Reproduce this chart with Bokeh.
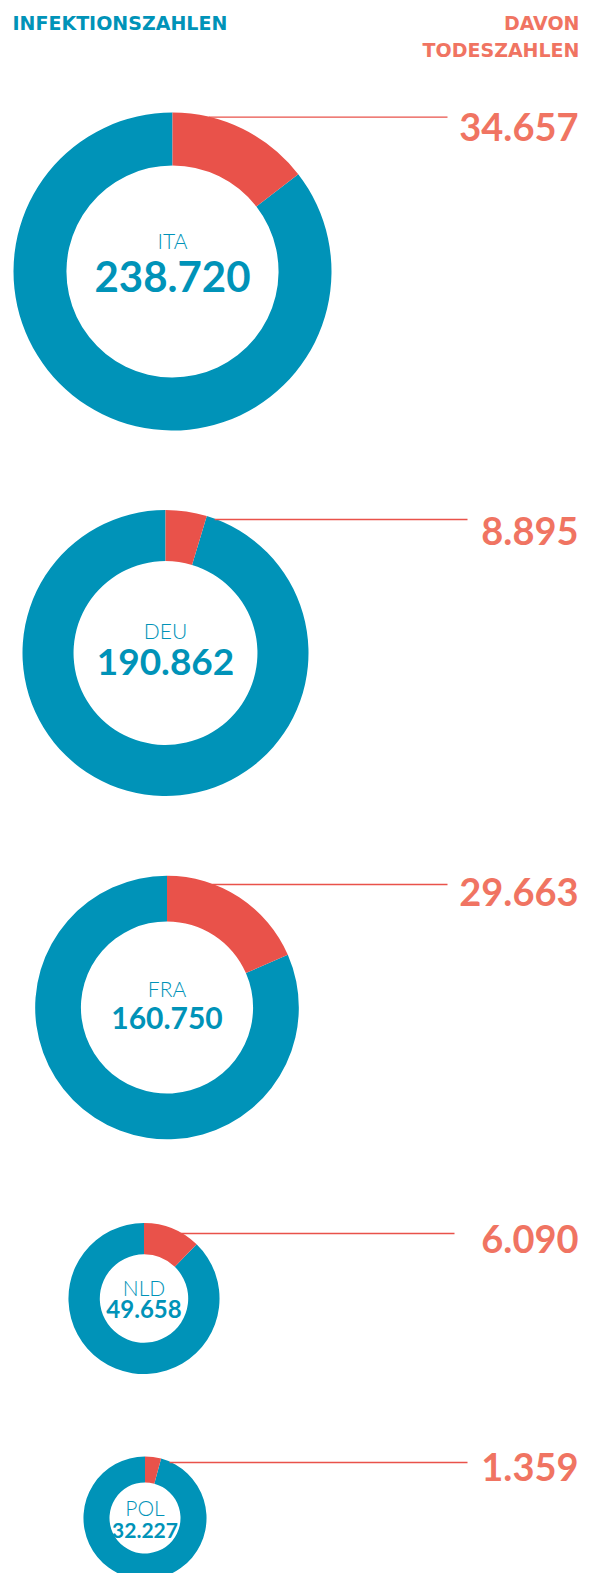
import math
from bokeh.plotting import figure
from bokeh.models import Range1d, ColumnDataSource
from bokeh.core.properties import value
from bokeh.embed import file_html
from bokeh.resources import INLINE

# ---- data ----
countries = ["ITA", "DEU", "FRA", "NLD", "POL"]
infections = [238720, 190862, 160750, 49658, 32227]
deaths = [34657, 8895, 29663, 6090, 1359]
header_left = "INFEKTIONSZAHLEN"
header_right = ["DAVON", "TODESZAHLEN"]

# ---- layout (page pixel coordinates) ----
center_x = [172, 165, 166.5, 143.5, 144.5]
center_y = [271, 652.5, 1007, 1298, 1517.5]
inner_ratio = [0.667, 0.643, 0.653, 0.585, 0.577]
num_font = [42, 37, 30, 24, 21]
num_dy = [4.5, 8.5, 10, 10, 12.5]
lab_dy = [-31, -22.5, -19, -11, -10.5]
line_y = [116.7, 519, 884, 1233, 1462]
line_x_end = [447, 467, 447, 454, 467]
death_y = [126, 530, 891, 1238, 1466]

TEAL = "#0093b8"
RED = "#e9524a"
SALMON = "#f07462"
FONT = "Lato"
SHIFT = 0.0  # baseline offset (em) so that cap centre lands on target y


def fmt(v):
    return f"{v:,}".replace(",", ".")


W, H = 597, 1573
p = figure(width=W, height=H, x_range=Range1d(0, W), y_range=Range1d(-H, 0),
           output_backend="svg", toolbar_location=None, min_border=0,
           x_axis_type=None, y_axis_type=None)
p.grid.visible = False
p.outline_line_color = None
p.background_fill_color = "white"
p.border_fill_color = "white"

vmax = max(infections)
outer = [159 * (v / vmax) ** 0.474 for v in infections]
inner = [o * r for o, r in zip(outer, inner_ratio)]
frac = [d / v for d, v in zip(deaths, infections)]
top = math.pi / 2

src = ColumnDataSource(dict(
    x=center_x,
    y=[-c for c in center_y],
    outer=outer,
    inner=inner,
    red_start=[top - 2 * math.pi * f for f in frac],
    red_end=[top] * len(frac),
    teal_start=[top] * len(frac),
    teal_end=[top + 2 * math.pi * (1 - f) for f in frac],
))

p.annular_wedge(x="x", y="y", inner_radius="inner", outer_radius="outer",
                start_angle="teal_start", end_angle="teal_end",
                fill_color=TEAL, line_color=None, source=src)
p.annular_wedge(x="x", y="y", inner_radius="inner", outer_radius="outer",
                start_angle="red_start", end_angle="red_end",
                fill_color=RED, line_color=None, source=src)

# leader lines
xs, ys = [], []
for cx, cy, r, ly, xe in zip(center_x, center_y, outer, line_y, line_x_end):
    dy = cy - ly
    dx = math.sqrt(max(r * r - dy * dy, 0))
    xs.append([cx + dx - 2, xe])
    ys.append([-ly, -ly])
p.multi_line(xs=xs, ys=ys, line_color=RED, line_width=1.3)

# country labels
LAB = 21
lab_src = ColumnDataSource(dict(
    x=center_x,
    y=[-(cy + d + SHIFT * LAB) for cy, d in zip(center_y, lab_dy)],
    text=countries,
))
p.text(x="x", y="y", text="text", source=lab_src, text_font=value("'Lato Light', Lato"),
       text_font_size=f"{LAB}px", text_align="center", text_baseline="alphabetic",
       text_color=TEAL)

# infection numbers
num_src = ColumnDataSource(dict(
    x=center_x,
    y=[-(cy + d + SHIFT * f) for cy, d, f in zip(center_y, num_dy, num_font)],
    text=[fmt(v) for v in infections],
    size=[f"{f}px" for f in num_font],
))
p.text(x="x", y="y", text="text", source=num_src, text_font=value(FONT),
       text_font_size="size", text_font_style="bold", text_align="center",
       text_baseline="alphabetic", text_color=TEAL)

# death numbers
d_src = ColumnDataSource(dict(
    x=[578] * len(deaths),
    y=[-(dy + SHIFT * 38) for dy in death_y],
    text=[fmt(v) for v in deaths],
))
p.text(x="x", y="y", text="text", source=d_src, text_font=value(FONT),
       text_font_size="38px", text_font_style="bold", text_align="right",
       text_baseline="alphabetic", text_color=SALMON)

# headers
HS = 19
p.text(x=[12], y=[-22], text=[header_left],
       text_font=value("DejaVu Sans"), text_font_size=f"{HS}px", text_font_style="bold",
       text_align="left", text_baseline="alphabetic", text_color=TEAL)
p.text(x=[579, 579], y=[-22, -49], text=header_right,
       text_font=value("DejaVu Sans"), text_font_size=f"{HS}px", text_font_style="bold",
       text_align="right", text_baseline="alphabetic", text_color=SALMON)

open("out.html", "w").write(file_html(p, INLINE))
